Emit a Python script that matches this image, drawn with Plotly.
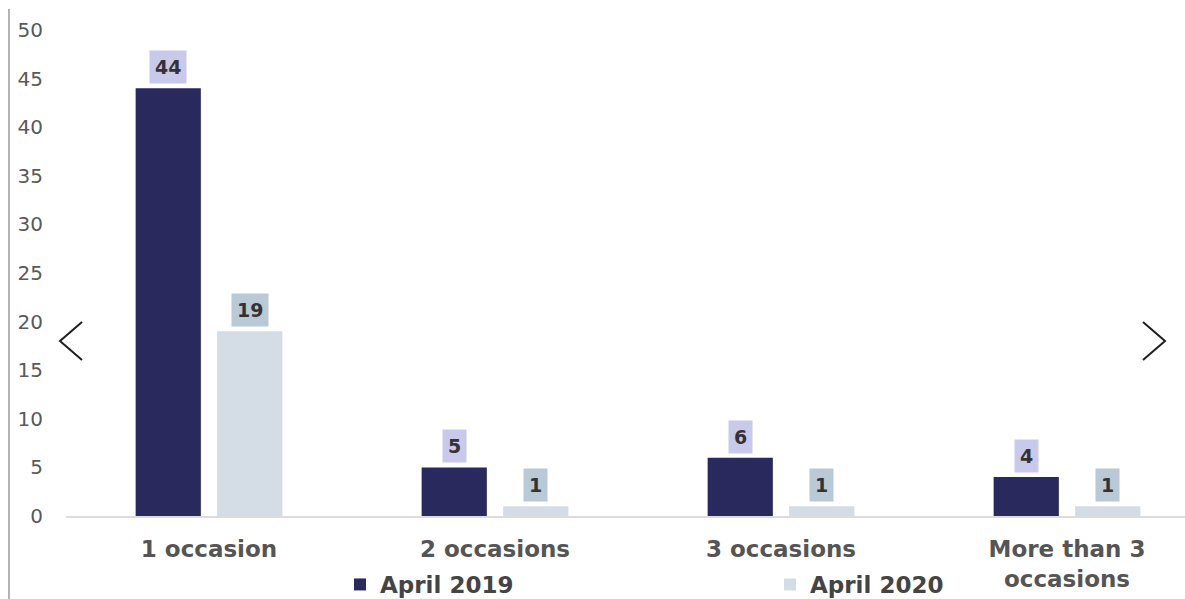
import plotly.graph_objects as go

# Number of occasions and counts for each period
categories = ["1 occasion", "2 occasions", "3 occasions", "More than 3<br>occasions"]
series_names = ["April 2019", "April 2020"]
values_2019 = [44, 5, 6, 4]
values_2020 = [19, 1, 1, 1]
y_ticks = [0, 5, 10, 15, 20, 25, 30, 35, 40, 45, 50]

BAR_COLORS = ["#29295e", "#d4dde5"]
LABEL_BG = ["#c9c9eb", "#b9cad6"]
FONT = "DejaVu Sans"

W, H = 1185, 599
M_L, M_R, M_T, M_B = 66, 0, 30, 83
PW, PH = W - M_L - M_R, H - M_T - M_B
BARGAP = 0.43
BARGROUPGAP = 0.2
CAT_SPACING_PX = 286  # pixel width of one category slot


def px_x(x):
    return (x - M_L) / PW


def px_y(y):
    return (M_T + PH - y) / PH


idx = list(range(len(categories)))
fig = go.Figure()
for name, vals, col in zip(series_names, [values_2019, values_2020], BAR_COLORS):
    fig.add_trace(go.Bar(x=idx, y=vals, name=name, marker=dict(color=col, line_width=0)))

# value boxes above the bars
half = (1 - BARGAP) / 4
annotations = []
for s, vals in enumerate([values_2019, values_2020]):
    off = -half if s == 0 else half
    for i, v in enumerate(vals):
        annotations.append(dict(
            x=i + off, y=v, xref="x", yref="y", text=f"<b>{v}</b>",
            showarrow=False, yanchor="bottom", yshift=4,
            font=dict(family=FONT, size=19, color="#333333"),
            bgcolor=LABEL_BG[s], borderpad=5,
        ))

x_max = -0.5 + PW / CAT_SPACING_PX

shapes = [
    # left border rule
    dict(type="line", xref="paper", yref="paper",
         x0=px_x(9), x1=px_x(9), y0=px_y(9), y1=px_y(599),
         line=dict(color="#9a9a9a", width=1.5)),
    # previous / next chevrons
    dict(type="path", xref="paper", yref="paper",
         path=f"M{px_x(82)},{px_y(322)} L{px_x(60)},{px_y(341)} L{px_x(82)},{px_y(360)}",
         line=dict(color="#1e1e1e", width=2)),
    dict(type="path", xref="paper", yref="paper",
         path=f"M{px_x(1143)},{px_y(322)} L{px_x(1165)},{px_y(341)} L{px_x(1143)},{px_y(360)}",
         line=dict(color="#1e1e1e", width=2)),
]

fig.update_layout(
    width=W, height=H,
    margin=dict(l=M_L, r=M_R, t=M_T, b=M_B, autoexpand=False),
    paper_bgcolor="white", plot_bgcolor="white",
    barmode="group", bargap=BARGAP, bargroupgap=BARGROUPGAP,
    font=dict(family=FONT),
    showlegend=True,
    legend=dict(
        orientation="h", x=px_x(340), xanchor="left", y=px_y(563), yanchor="top",
        font=dict(family=FONT, size=23, color="#444444", weight="bold"),
        entrywidth=385, itemclick=False, bgcolor="rgba(0,0,0,0)",
    ),
    annotations=annotations,
    shapes=shapes,
    xaxis=dict(
        tickmode="array", tickvals=idx, ticktext=[f"<b>{c}</b>" for c in categories],
        range=[-0.5, x_max], showgrid=False, zeroline=False,
        showline=True, linecolor="#dcdcdc", linewidth=1.5,
        ticks="outside", ticklen=12, tickcolor="rgba(0,0,0,0)",
        tickfont=dict(family=FONT, size=23, color="#555555"),
    ),
    yaxis=dict(
        range=[0, 50], tickvals=y_ticks, showgrid=False, zeroline=False, showline=False,
        ticks="outside", ticklen=18, tickcolor="rgba(0,0,0,0)",
        tickfont=dict(family=FONT, size=20, color="#595959"),
    ),
)

fig.write_html("out.html")
